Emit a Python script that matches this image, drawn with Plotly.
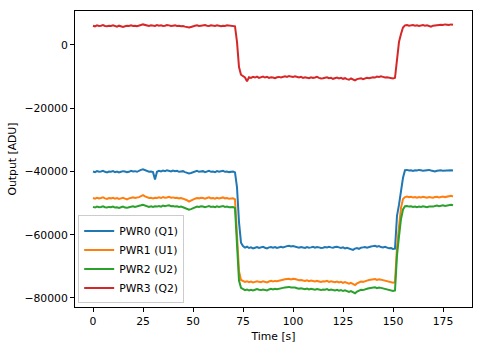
import plotly.graph_objects as go

# Time axis (s), sampled every second
time_s = list(range(0, 181))

pwr3_q2 = [
    6100, 5900, 6200, 6000, 6100, 6300, 6000, 5900, 6100, 6000,
    6200, 6000, 5800, 6100, 6000, 5700, 5900, 6100, 6000, 6200,
    6000, 6100, 5900, 6200, 6300, 6500, 6300, 6100, 6000, 6200,
    6100, 6000, 6300, 6100, 6200, 6000, 6100, 6300, 6200, 6000,
    6100, 6200, 6000, 6100, 5900, 6000, 5800, 5600, 5500, 5700,
    6000, 6100, 6200, 6000, 6100, 6200, 6300, 6100, 6000, 6200,
    6100, 6000, 6200, 6100, 5900, 6100, 6000, 6200, 6100, 5900,
    6000, 5900, 1000, -7000, -9400, -9900, -10300, -11500, -10200, -10400,
    -10100, -10300, -10000, -10400, -10200, -10000, -10300, -10100, -10400, -10200,
    -10300, -10500, -10200, -10100, -10300, -10000, -9900, -10100, -9800, -10000,
    -10100, -9900, -10200, -10300, -10100, -10400, -10200, -10300, -10500, -10200,
    -10400, -10300, -10100, -10400, -10600, -10500, -10300, -10200, -10500, -10400,
    -10700, -10500, -10300, -10600, -10400, -10700, -10500, -10800, -11000, -10600,
    -10900, -11200, -10800, -10600, -10500, -10800, -10600, -10400, -10500, -10300,
    -10200, -10300, -10000, -10100, -9900, -10100, -10300, -10200, -10400, -10500,
    -10600, -10400, -4000, 1000, 3500, 5500, 6200, 6300, 6100, 6200,
    6300, 6100, 6200, 6000, 6200, 6300, 6100, 6200, 6000, 5800,
    6100, 6200, 6300, 6200, 6400, 6300, 6500, 6400, 6300, 6500, 6400,
]

pwr0_q1 = [
    -40000, -40200, -39900, -40100, -40000, -39800, -40100, -40300, -40000, -40100,
    -39900, -40200, -40000, -40300, -40100, -39900, -40000, -40200, -40100, -39800,
    -40000, -39900, -40100, -39700, -39500, -39300, -39600, -39900, -40100, -40000,
    -40200, -42500, -40100, -39800, -40000, -39700, -39900, -39600, -39800, -40000,
    -39700, -39900, -39800, -40100, -40000, -39900, -40200, -40400, -40600, -40500,
    -40200, -40000, -39800, -40100, -40000, -39900, -40200, -40000, -39800, -40100,
    -40000, -40200, -39900, -40100, -40000, -39800, -40100, -40000, -40200, -40100,
    -40000, -40300, -45000, -56000, -62500, -63600, -64100, -63800, -64200, -64000,
    -64300, -64100, -63900, -64200, -64000, -63800, -64100, -64300, -64000, -63900,
    -64100, -63900, -64200, -64000, -63800, -64000, -63700, -63600, -63500, -63700,
    -63600, -63800, -63900, -64100, -63900, -64000, -64200, -63900, -64100, -64000,
    -63800, -64100, -63900, -64000, -64200, -64100, -63900, -64000, -63800, -64000,
    -64100, -63900, -63800, -64000, -64200, -64000, -64300, -64100, -64400, -64600,
    -64800, -64400, -64200, -64500, -64100, -64000, -63900, -64100, -63800, -63700,
    -63600, -63500, -63800, -63600, -63900, -64000, -63800, -64100, -64300, -64200,
    -64500, -64400, -54000, -50500, -46000, -42000, -39600, -39500, -39700, -39600,
    -39800, -39600, -39700, -39500, -39600, -39800, -39700, -39600, -39500, -39700,
    -39900, -40000, -39800, -39700, -39600, -39800, -39700, -39600, -39500, -39600, -39700,
]

pwr1_u1 = [
    -48400, -48600, -48300, -48500, -48400, -48200, -48500, -48700, -48400, -48500,
    -48300, -48600, -48400, -48700, -48500, -48300, -48600, -48800, -48500, -48400,
    -48200, -48400, -48300, -48100, -47800, -47500, -47900, -48200, -48400, -48300,
    -48500, -48300, -48400, -48200, -48400, -48100, -48300, -48200, -48000, -48300,
    -48200, -48400, -48300, -48500, -48400, -48600, -48800, -49100, -49500, -49300,
    -48900, -48600, -48400, -48500, -48300, -48400, -48600, -48400, -48200, -48500,
    -48400, -48600, -48300, -48500, -48400, -48200, -48500, -48400, -48600, -48500,
    -48500, -48800, -62000, -71500, -74300, -74600, -74900, -74700, -75000, -74800,
    -75100, -74900, -74700, -74900, -75000, -74700, -74900, -75100, -74800, -74600,
    -74800, -74600, -74700, -74500, -74400, -74300, -74100, -74000, -73900, -74100,
    -73900, -74000, -74200, -74400, -74300, -74500, -74600, -74400, -74700, -74500,
    -74700, -74800, -74600, -74800, -74900, -74700, -74800, -74600, -74900, -74700,
    -74900, -75000, -74800, -75100, -74900, -75200, -75000, -75300, -75500, -75200,
    -75700, -75900, -75400, -75100, -74800, -74900, -74600, -74500, -74300, -74200,
    -74100, -74000, -74300, -74100, -74200, -74400, -74600, -74800, -74900, -75100,
    -75200, -75000, -64000, -57500, -51500, -48700, -48100, -47900, -48100, -48000,
    -48200, -48100, -48300, -48100, -48200, -48000, -48200, -48300, -48100, -48200,
    -48300, -48100, -48000, -48200, -48000, -47900, -48100, -47900, -47800, -47700, -47900,
]

pwr2_u2 = [
    -51200, -51400, -51100, -51300, -51200, -51000, -51300, -51400, -51200, -51300,
    -51100, -51400, -51300, -51500, -51300, -51100, -51400, -51500, -51300, -51200,
    -51000, -51200, -51100, -50900, -50700, -50500, -50800, -51100, -51200, -51000,
    -51200, -51000, -51100, -50900, -51100, -50800, -51000, -50800, -50700, -51000,
    -50900, -51100, -51000, -51200, -51100, -51300, -51500, -51800, -52100, -51900,
    -51600, -51300, -51100, -51200, -51000, -51100, -51300, -51100, -50900, -51200,
    -51100, -51300, -51000, -51200, -51100, -50900, -51200, -51100, -51300, -51200,
    -51200, -51600, -64000, -74500, -76800, -77200, -77500, -77300, -77600, -77400,
    -77600, -77400, -77200, -77400, -77500, -77300, -77400, -77600, -77300, -77100,
    -77300, -77100, -77200, -77000, -76900, -76800, -76700, -76600, -76500, -76700,
    -76600, -76700, -76900, -77100, -76900, -77100, -77200, -77000, -77300, -77100,
    -77300, -77400, -77200, -77400, -77500, -77300, -77400, -77200, -77500, -77300,
    -77500, -77600, -77400, -77700, -77500, -77800, -77600, -77900, -78100, -77800,
    -78300, -78500, -78000, -77700, -77400, -77500, -77200, -77100, -76900, -76800,
    -76700, -76600, -76900, -76700, -76800, -77000, -77200, -77400, -77500, -77700,
    -77800, -77600, -66500, -60500, -55000, -52000, -51000, -50900, -51100, -51000,
    -51200, -51100, -51300, -51100, -51200, -51000, -51200, -51300, -51100, -51200,
    -51100, -50900, -50800, -51000, -50800, -50700, -50900, -50700, -50600, -50500, -50700,
]

series_names = ["PWR0 (Q1)", "PWR1 (U1)", "PWR2 (U2)", "PWR3 (Q2)"]
series_values = [pwr0_q1, pwr1_u1, pwr2_u2, pwr3_q2]
series_colors = ["#1f77b4", "#ff7f0e", "#2ca02c", "#d62728"]

x_tickvals = [0, 25, 50, 75, 100, 125, 150, 175]
y_tickvals = [0, -20000, -40000, -60000, -80000]
y_ticktext = ["0", "\u221220000", "\u221240000", "\u221260000", "\u221280000"]

fig = go.Figure()
for name, vals, col in zip(series_names, series_values, series_colors):
    fig.add_trace(go.Scatter(x=time_s, y=vals, mode="lines", name=name,
                             line=dict(color=col, width=2)))

FONT = "DejaVu Sans"
FS = 10.8
fig.update_layout(
    width=483, height=347,
    margin=dict(l=75, r=11, t=11, b=40),
    paper_bgcolor="white", plot_bgcolor="white",
    font=dict(family=FONT, size=FS, color="black"),
    showlegend=True,
    legend=dict(x=0.008, y=0.012, xanchor="left", yanchor="bottom",
                bgcolor="rgba(255,255,255,0.8)", bordercolor="#cccccc", borderwidth=1,
                font=dict(family=FONT, size=FS), tracegroupgap=0, itemwidth=30),
)
fig.update_xaxes(range=[-9, 189.5], tickvals=x_tickvals, showgrid=False, zeroline=False,
                 showline=True, mirror=True, linecolor="black", linewidth=1,
                 ticks="outside", ticklen=4, tickcolor="black", tickwidth=1,
                 tickfont=dict(family=FONT, size=FS), automargin=False,
                 title=dict(text="Time [s]", standoff=5, font=dict(family=FONT, size=FS)))
fig.update_yaxes(range=[-82850, 10740], tickvals=y_tickvals, ticktext=y_ticktext,
                 showgrid=False, zeroline=False,
                 showline=True, mirror=True, linecolor="black", linewidth=1,
                 ticks="outside", ticklen=4, tickcolor="black", tickwidth=1,
                 tickfont=dict(family=FONT, size=FS), automargin=False,
                 title=dict(text="Output [ADU]", standoff=5, font=dict(family=FONT, size=FS)))

fig.write_html("out.html")
